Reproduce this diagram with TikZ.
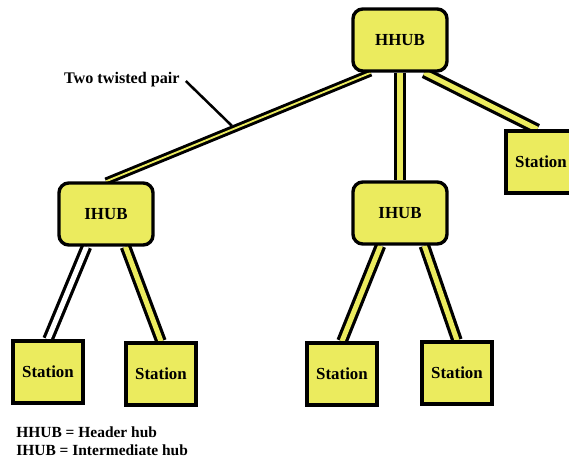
\documentclass[tikz,border=0pt]{standalone}
\usepackage{fontspec}
\setmainfont{Liberation Serif}
\usepackage{tikz}
\usetikzlibrary{calc, backgrounds}
\definecolor{hubyellow}{HTML}{EBEB5E}
\tikzstyle{hub} = [rectangle, draw, line width=2.4pt, rounded corners=7pt, fill=hubyellow,
    minimum width=2.35cm, minimum height=1.55cm, font=\bfseries\large]
\tikzstyle{station} = [rectangle, draw, line width=2.4pt, fill=hubyellow,
    minimum width=1.75cm, minimum height=1.55cm, font=\bfseries\large]
\tikzstyle{pair} = [draw, line width=2.3pt, double=hubyellow, double distance=3.6pt]
\tikzstyle{thinpair} = [draw, line width=2.1pt, double=hubyellow, double distance=1.3pt]
\tikzstyle{blankpair} = [draw, line width=2.3pt, double=white, double distance=3.6pt]
\tikzstyle{pointer} = [draw, line width=1.8pt]

\begin{document}
\begin{tikzpicture}[x=0.025cm, y=-0.025cm]
    \useasboundingbox (0,0) rectangle (569,460);
    % Nodes
    \node [hub] (hhub) at (400,40) {HHUB};
    \node [hub] (ihubl) at (106,214) {IHUB};
    \node [hub] (ihubm) at (400,213) {IHUB};
    \node [station] (stright) at (541,162) {Station};
    \node [station] (sta) at (48,372) {Station};
    \node [station] (stb) at (161,374) {Station};
    \node [station] (stc) at (342,374) {Station};
    \node [station] (std) at (457,373) {Station};
    \node [font=\bfseries\fontsize{11.5}{13}\selectfont, anchor=west, inner sep=2pt] (twisted) at (61,80) {Two twisted pair};
    \node [font=\bfseries\fontsize{11}{12.5}\selectfont, anchor=west, align=left, inner sep=0pt] (legend) at (16,441)
        {HHUB = Header hub\\IHUB = Intermediate hub};
    % Edges
    \begin{pgfonlayer}{background}
    \coordinate (tp) at ($($(hhub.south west)!0.2!(hhub.south east)$)!0.525!(ihubl.north)$);
    \path [pointer] ($(twisted.east)+(3,1)$) -- ($(tp)+(0,-4)$);
    \path [thinpair] ($(hhub.south west)!0.2!(hhub.south east)$) -- (ihubl.north);
    \path [pair] (hhub.south) -- (hhub.south |- ihubm.north);
    \path [pair] ($(hhub.south west)!0.75!(hhub.south east)$) -- ($(stright.north west)!0.45!(stright.north east)$);
    \path [blankpair] ($(ihubl.south west)!0.3!(ihubl.south east)$) -- (sta.north);
    \path [pair] ($(ihubl.south west)!0.7!(ihubl.south east)$) -- (stb.north);
    \path [pair] ($(ihubm.south west)!0.3!(ihubm.south east)$) -- (stc.north);
    \path [pair] ($(ihubm.south west)!0.75!(ihubm.south east)$) -- (std.north);
    \end{pgfonlayer}
\end{tikzpicture}
\end{document}
